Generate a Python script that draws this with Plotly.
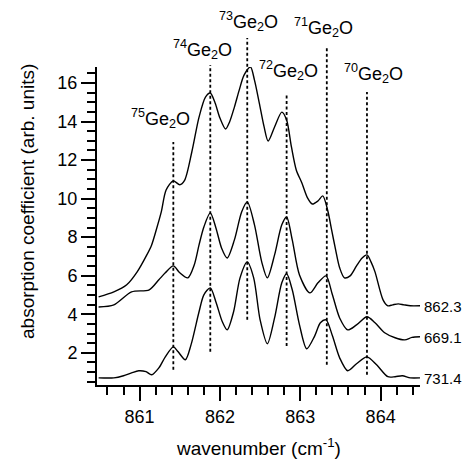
import plotly.graph_objects as go

# ---- data ----
top_x = [860.49, 860.68, 860.84, 860.97, 861.09, 861.15, 861.20, 861.27, 861.33, 861.42, 861.50, 861.56,
         861.65, 861.74, 861.82, 861.88, 861.94, 862.00, 862.07, 862.12, 862.18, 862.24, 862.30, 862.38,
         862.43, 862.49, 862.55, 862.60, 862.68, 862.77, 862.83, 862.89, 862.95, 863.02, 863.09, 863.15,
         863.22, 863.28, 863.34, 863.39, 863.44, 863.49, 863.55, 863.62, 863.70, 863.77, 863.83, 863.88,
         863.93, 864.03, 864.09, 864.15, 864.22, 864.29, 864.37, 864.49]
top_y = [4.90, 5.16, 5.53, 6.20, 7.08, 7.60, 8.27, 9.31, 10.45, 10.92, 10.72, 10.95,
         12.42, 14.23, 15.27, 15.48, 14.96, 14.18, 13.61, 13.98, 14.75, 15.63, 16.41, 16.83,
         16.15, 14.96, 13.72, 12.99, 13.72, 14.49, 14.08, 12.68, 11.49, 10.81, 10.04, 9.72,
         9.88, 10.14, 9.41, 8.38, 7.34, 6.41, 5.89, 5.99, 6.51, 6.92, 7.08, 6.72,
         6.20, 4.75, 4.44, 4.49, 4.54, 4.49, 4.44, 4.44]

mid_x = [860.49, 860.68, 860.90, 861.12, 861.24, 861.32, 861.42, 861.50, 861.60, 861.68, 861.74, 861.80,
         861.88, 861.95, 862.02, 862.09, 862.18, 862.27, 862.34, 862.43, 862.52, 862.59, 862.68, 862.77,
         862.83, 862.90, 862.99, 863.12, 863.22, 863.32, 863.40, 863.49, 863.59, 863.70, 863.83, 863.93,
         864.05, 864.18, 864.30, 864.39, 864.49]
mid_y = [4.38, 4.49, 5.16, 5.27, 5.79, 6.15, 6.51, 6.15, 5.89, 6.56, 7.60, 8.53,
         9.26, 8.48, 7.44, 6.92, 7.86, 9.31, 9.83, 8.64, 6.72, 5.89, 7.08, 8.64,
         9.05, 7.86, 6.04, 5.11, 5.63, 5.99, 5.01, 3.81, 3.19, 3.45, 3.87, 3.56,
         3.04, 2.78, 2.67, 2.80, 2.83]

bot_x = [860.49, 860.68, 860.80, 860.90, 860.99, 861.08, 861.15, 861.24, 861.32, 861.42, 861.48, 861.57,
         861.64, 861.74, 861.80, 861.88, 861.95, 862.03, 862.09, 862.17, 862.25, 862.34, 862.42, 862.50,
         862.59, 862.68, 862.77, 862.83, 862.90, 862.99, 863.08, 863.18, 863.25, 863.32, 863.40, 863.49,
         863.59, 863.70, 863.83, 863.95, 864.09, 864.18, 864.27, 864.37, 864.49]
bot_y = [0.70, 0.70, 0.81, 0.96, 1.07, 1.02, 0.86, 1.22, 1.79, 2.31, 2.05, 1.64,
         2.41, 4.13, 5.01, 5.37, 4.64, 3.61, 3.19, 4.13, 5.89, 6.72, 5.89, 3.71,
         2.47, 3.81, 5.63, 6.10, 5.27, 3.45, 2.21, 2.88, 3.56, 3.71, 2.88, 1.74,
         1.07, 1.43, 1.79, 1.38, 0.76, 0.76, 0.81, 0.70, 0.70]

series_labels = ["862.3", "669.1", "731.4"]

peak_pos = [861.42, 861.88, 862.34, 862.83, 863.33, 863.83]
isotopes = ["75", "74", "73", "72", "71", "70"]
line_top = [12.94, 16.93, 18.33, 15.48, 17.81, 15.53]
line_bottom = [1.12, 2.05, 3.71, 2.36, 1.38, 0.86]

X_RANGE = [860.47, 864.49]
Y_RANGE = [0.33, 16.83]

FONT = "Liberation Sans, Arial, Helvetica, sans-serif"

# ---- layout positions (pixels) ----
label_xshift = [-13, -8, 1, 1.5, -3.5, 7]
label_ypix = [118.5, 50, 21.5, 70, 27.5, 73.5]
ML, MR, MT, MB = 97, 51, 67, 74
W, H = 471, 459
PH = H - MT - MB
PW = W - ML - MR


def ypaper(v):
    return (v - Y_RANGE[0]) / (Y_RANGE[1] - Y_RANGE[0])


def ypix_to_paper(py):
    return (H - MB - py) / PH


fig = go.Figure()
for xs, ys, lab in zip([top_x, mid_x, bot_x], [top_y, mid_y, bot_y], series_labels):
    fig.add_trace(go.Scatter(x=xs, y=ys, mode="lines",
                             line=dict(color="black", width=1.4, shape="spline", smoothing=0.8),
                             showlegend=False, hoverinfo="skip"))
    fig.add_annotation(x=1, xref="paper", y=ys[-1], yref="y", text=lab, showarrow=False,
                       xanchor="left", yanchor="middle", xshift=2, yshift=-1,
                       font=dict(family=FONT, size=15, color="black"))

for p, iso, t, b, xs, py in zip(peak_pos, isotopes, line_top, line_bottom, label_xshift, label_ypix):
    fig.add_shape(type="line", xref="x", yref="paper", x0=p, x1=p, y0=ypaper(b), y1=ypaper(t),
                  line=dict(color="black", width=1.8, dash="3px,2.5px"))
    fig.add_annotation(x=p, xref="x", y=ypix_to_paper(py), yref="paper",
                       text="<sup>" + iso + "</sup>Ge<sub>2</sub>O", showarrow=False,
                       xanchor="center", yanchor="middle", xshift=xs,
                       font=dict(family=FONT, size=18, color="black"))

fig.add_annotation(x=-(97 - 27) / PW, xref="paper", y=ypix_to_paper(202), yref="paper",
                   text="absorption coefficient (arb. units)", textangle=-90, showarrow=False,
                   xanchor="center", yanchor="middle", font=dict(family=FONT, size=19, color="black"))
fig.add_annotation(x=0.5, xref="paper", y=ypix_to_paper(447), yref="paper",
                   text="wavenumber (cm<sup>-1</sup>)", showarrow=False,
                   xanchor="center", yanchor="middle", font=dict(family=FONT, size=19, color="black"))

axis_common = dict(showline=True, linecolor="black", linewidth=2, ticks="outside", ticklen=14,
                   tickwidth=2, tickcolor="black", showgrid=False, zeroline=False, mirror=False,
                   tickfont=dict(family=FONT, size=18, color="black"))
fig.update_xaxes(range=X_RANGE, tick0=861, dtick=1,
                 minor=dict(ticks="outside", ticklen=8, tickwidth=2, tickcolor="black", dtick=0.2, tick0=861, showgrid=False),
                 **axis_common)
fig.update_yaxes(range=Y_RANGE, tick0=0, dtick=2,
                 minor=dict(ticks="outside", ticklen=8, tickwidth=2, tickcolor="black", dtick=0.5, tick0=0, showgrid=False),
                 **axis_common)

fig.update_layout(width=W, height=H, margin=dict(l=ML, r=MR, t=MT, b=MB),
                  plot_bgcolor="white", paper_bgcolor="white",
                  font=dict(family=FONT, color="black"))
fig.write_html("out.html")
